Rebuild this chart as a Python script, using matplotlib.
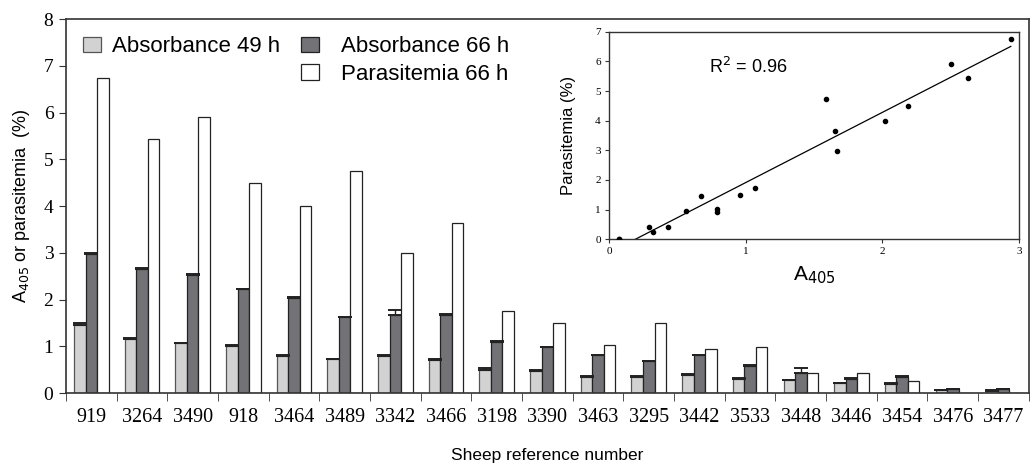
import matplotlib
matplotlib.use("Agg")
import matplotlib.pyplot as plt
import numpy as np
from matplotlib.patches import Patch

sheep = ["919", "3264", "3490", "918", "3464", "3489", "3342", "3466", "3198", "3390",
         "3463", "3295", "3442", "3533", "3448", "3446", "3454", "3476", "3477"]
abs49 = [1.45, 1.16, 1.07, 1.01, 0.80, 0.72, 0.80, 0.71, 0.50, 0.48,
         0.35, 0.35, 0.39, 0.31, 0.27, 0.21, 0.20, 0.06, 0.05]
err49 = [0.04, 0.01, 0.01, 0.01, 0.01, 0.01, 0.01, 0.01, 0.04, 0.01,
         0.01, 0.01, 0.01, 0.01, 0.01, 0.01, 0.01, 0.01, 0.01]
abs66 = [2.97, 2.65, 2.52, 2.22, 2.04, 1.62, 1.68, 1.68, 1.10, 0.98,
         0.81, 0.68, 0.81, 0.59, 0.44, 0.31, 0.35, 0.08, 0.08]
err66 = [0.02, 0.02, 0.02, 0.01, 0.02, 0.01, 0.10, 0.01, 0.02, 0.01,
         0.01, 0.01, 0.01, 0.01, 0.09, 0.02, 0.01, 0.01, 0.01]
para66 = [6.74, 5.43, 5.90, 4.50, 4.00, 4.75, 2.99, 3.64, 1.75, 1.50,
          1.04, 1.50, 0.94, 0.98, 0.43, 0.43, 0.26, 0.0, 0.0]

# inset scatter
inset_a405 = [0.07, 0.07, 0.29, 0.32, 0.43, 0.56, 0.67, 0.79, 0.79, 0.96, 1.07,
              1.59, 1.65, 1.67, 2.02, 2.19, 2.50, 2.63, 2.94]
inset_para = [0.0, 0.0, 0.41, 0.23, 0.41, 0.96, 1.47, 1.03, 0.91, 1.49, 1.72,
              4.73, 3.65, 2.98, 4.00, 4.48, 5.90, 5.44, 6.75]
fit_slope = 2.37
fit_intercept = -0.46
fit_x = [0.19, 2.94]

light = "#d2d2d2"
dark = "#737377"
spine_c = "#333333"

fig = plt.figure(figsize=(10.34, 4.68), dpi=100)
ax = fig.add_axes([0.0638, 0.160, 0.9312, 0.799])

x = np.arange(len(sheep))
w = 0.227
zeros = np.zeros(len(sheep))
ax.bar(x - w, abs49, w, color=light, edgecolor="#555555", linewidth=0.9, zorder=2)
ax.bar(x, abs66, w, color=dark, edgecolor="#222222", linewidth=0.9, zorder=2)
ax.bar(x + w, para66, w, color="white", edgecolor="#222222", linewidth=0.9, zorder=2)
ax.errorbar(x - w, abs49, yerr=[zeros, err49], fmt="none", ecolor="#222222",
            elinewidth=1.0, capsize=5, capthick=1.4, zorder=3)
ax.errorbar(x, abs66, yerr=[zeros, err66], fmt="none", ecolor="#222222",
            elinewidth=1.0, capsize=5, capthick=1.4, zorder=3)

ax.set_xlim(-0.5, len(sheep) - 0.5)
ax.set_ylim(0, 8)
ax.set_yticks(range(0, 9))
ax.set_xticks(x)
ax.set_xticklabels(sheep, family="Liberation Serif", fontsize=14.5)
ax.set_xticks(np.arange(-0.5, len(sheep)), minor=True)
ax.tick_params(axis="x", which="major", length=0, pad=11)
ax.tick_params(axis="x", which="minor", length=6, direction="out", color=spine_c)
ax.tick_params(axis="y", length=5, direction="out", color=spine_c, pad=4)
for lab in ax.get_yticklabels():
    lab.set_family("Liberation Serif")
    lab.set_fontsize(14)
for s in ax.spines.values():
    s.set_color(spine_c)
    s.set_linewidth(1.2)

ax.set_ylabel("A$_{405}$ or parasitemia  (%)", family="Liberation Sans", fontsize=13, labelpad=8)
ax.set_xlabel("Sheep reference number", family="Liberation Sans", fontsize=12.5, labelpad=15)

prop = {"family": "Liberation Sans", "size": 16}
h49 = Patch(facecolor=light, edgecolor="#555555", linewidth=0.9)
h66 = Patch(facecolor=dark, edgecolor="#222222", linewidth=0.9)
hp = Patch(facecolor="white", edgecolor="#222222", linewidth=0.9)
leg1 = ax.legend([h49], ["Absorbance 49 h"], loc="upper left",
                 bbox_to_anchor=(0.0177, 0.954), frameon=False, prop=prop,
                 handlelength=0.8, handleheight=0.7, handletextpad=0.5,
                 borderpad=0, borderaxespad=0)
ax.add_artist(leg1)
ax.legend([h66, hp], ["Absorbance 66 h", "Parasitemia 66 h"], loc="upper left",
          bbox_to_anchor=(0.2445, 0.954), frameon=False, prop=prop,
          handlelength=0.8, handleheight=0.7, handletextpad=1.0,
          labelspacing=0.28, borderpad=0, borderaxespad=0)

# inset
ia = fig.add_axes([0.589, 0.489, 0.3965, 0.443])
ia.scatter(inset_a405, inset_para, s=9, color="black", zorder=3)
fx = np.array(fit_x)
ia.plot(fx, fit_slope * fx + fit_intercept, color="black", linewidth=0.9)
ia.set_xlim(0, 3)
ia.set_ylim(0, 7)
ia.set_xticks([0, 1, 2, 3])
ia.set_yticks(range(0, 8))
ia.tick_params(length=3, direction="out", color=spine_c, labelsize=8, pad=3)
for lab in ia.get_xticklabels() + ia.get_yticklabels():
    lab.set_family("Liberation Serif")
for s in ia.spines.values():
    s.set_color(spine_c)
    s.set_linewidth(1.0)
ia.set_ylabel("Parasitemia (%)", family="Liberation Sans", fontsize=12, labelpad=14)
ia.set_xlabel("A$_{405}$", family="Liberation Sans", fontsize=15, labelpad=6)
ia.text(0.73, 5.8, "R$^2$ = 0.96", family="Liberation Sans", fontsize=13, va="center")

fig.savefig("out.png", dpi=100)
